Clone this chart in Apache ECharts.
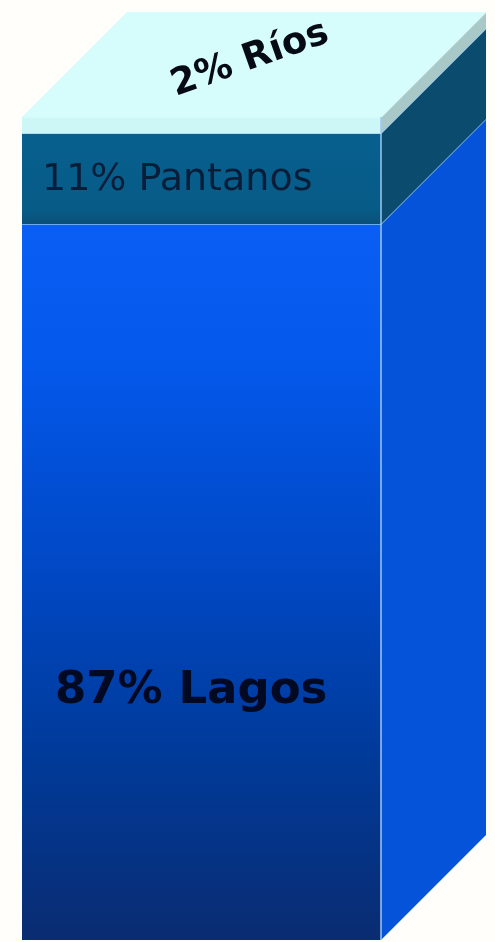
<!DOCTYPE html>
<html>
<head>
<meta charset="utf-8">
<script src="https://cdn.jsdelivr.net/npm/echarts@6/dist/echarts.min.js"></script>
<style>
html,body{margin:0;padding:0;background:#fffefb;}
#chart{width:495px;height:942px;}
</style>
</head>
<body>
<div id="chart"></div>
<script>
// Segments from bottom to top of the stacked column
const segmentNames = ['Lagos', 'Pantanos', 'Ríos'];
const segmentValues = [87, 11, 2];
const segmentLabels = ['87% Lagos', '11% Pantanos', '2% Ríos'];
const categories = ['Agua dulce superficial'];

// build stacked data: [categoryIndex, start, end, segIndex]
const stackData = [];
let acc = 0;
segmentValues.forEach(function (v, i) {
  stackData.push([0, acc, acc + v, i]);
  acc += v;
});

const DEPTH = 105;
const frontFill = [
  new echarts.graphic.LinearGradient(0, 0, 0, 1, [
    {offset: 0, color: '#0a5ef4'},
    {offset: 0.2, color: '#0458ea'},
    {offset: 0.5, color: '#0047c2'},
    {offset: 0.75, color: '#003a98'},
    {offset: 1, color: '#0a2c72'}
  ]),
  new echarts.graphic.LinearGradient(0, 0, 0, 1, [
    {offset: 0, color: '#07608e'},
    {offset: 0.85, color: '#075b87'},
    {offset: 1, color: '#0a4f78'}
  ]),
  '#cdf7f7'
];
const sideFill = ['#0453d8', '#0b4b6e', '#a9c9c8'];
const labelStyle = [
  {fontSize: 45, fontWeight: 'bold', fill: '#010a22'},
  {fontSize: 38, fontWeight: 'normal', fill: '#0a1d38'},
  {fontSize: 37, fontWeight: 'bold', fill: '#050a14'}
];

function renderItem(params, api) {
  const i = api.value(3);
  const pBot = api.coord([api.value(0), api.value(1)]);
  const pTop = api.coord([api.value(0), api.value(2)]);
  const bw = api.size([1, 0])[0];
  const x0 = pBot[0] - bw / 2, x1 = pBot[0] + bw / 2;
  const yB = pBot[1], yT = pTop[1];
  const children = [];
  children.push({
    type: 'rect',
    shape: {x: x0, y: yT, width: bw, height: yB - yT},
    style: {fill: frontFill[i]}
  });
  children.push({
    type: 'polygon',
    shape: {points: [[x1, yB], [x1 + DEPTH, yB - DEPTH], [x1 + DEPTH, yT - DEPTH], [x1, yT]]},
    style: {fill: sideFill[i]}
  });
  // light separator lines
  children.push({
    type: 'polyline',
    shape: {points: [[x0, yT], [x1, yT], [x1 + DEPTH, yT - DEPTH]]},
    style: {stroke: i === 2 ? '#d6fbfb' : '#8fc2f5', lineWidth: 1.3, fill: null}
  });
  children.push({
    type: 'line',
    shape: {x1: x1, y1: yB, x2: x1, y2: yT},
    style: {stroke: '#9cc8f7', lineWidth: 1.5}
  });
  if (i === segmentValues.length - 1) {
    children.push({
      type: 'polygon',
      shape: {points: [[x0, yT], [x1, yT], [x1 + DEPTH, yT - DEPTH], [x0 + DEPTH, yT - DEPTH]]},
      style: {fill: '#d7fcfc'}
    });
    children.push({
      type: 'text',
      x: (x0 + x1) / 2 + DEPTH / 2 - 4,
      y: yT - DEPTH / 2 - 5,
      rotation: 0.34,
      style: Object.assign({
        text: segmentLabels[i], align: 'center', verticalAlign: 'middle',
        fontFamily: 'DejaVu Sans'
      }, labelStyle[i])
    });
  } else if (i === 1) {
    children.push({
      type: 'text',
      x: x0 + 20, y: (yT + yB) / 2 + 1,
      style: Object.assign({
        text: segmentLabels[i], align: 'left', verticalAlign: 'middle',
        fontFamily: 'DejaVu Sans'
      }, labelStyle[i])
    });
  } else {
    children.push({
      type: 'text',
      x: x0 + 33, y: yT + (yB - yT) * 0.653,
      style: Object.assign({
        text: segmentLabels[i], align: 'left', verticalAlign: 'middle',
        fontFamily: 'DejaVu Sans'
      }, labelStyle[i])
    });
  }
  return {type: 'group', children: children};
}

const chart = echarts.init(document.getElementById('chart'), null, {renderer: 'canvas'});
chart.setOption({
  backgroundColor: '#fffefb',
  animation: false,
  grid: {left: 22, right: 114, top: 117, bottom: 2},
  xAxis: {type: 'category', data: categories, show: false, boundaryGap: true},
  yAxis: {type: 'value', min: 0, max: 100, show: false},
  series: [{
    type: 'custom',
    name: 'Agua dulce',
    renderItem: renderItem,
    data: stackData,
    encode: {x: 0, y: [1, 2]}
  }]
});
</script>
</body>
</html>
